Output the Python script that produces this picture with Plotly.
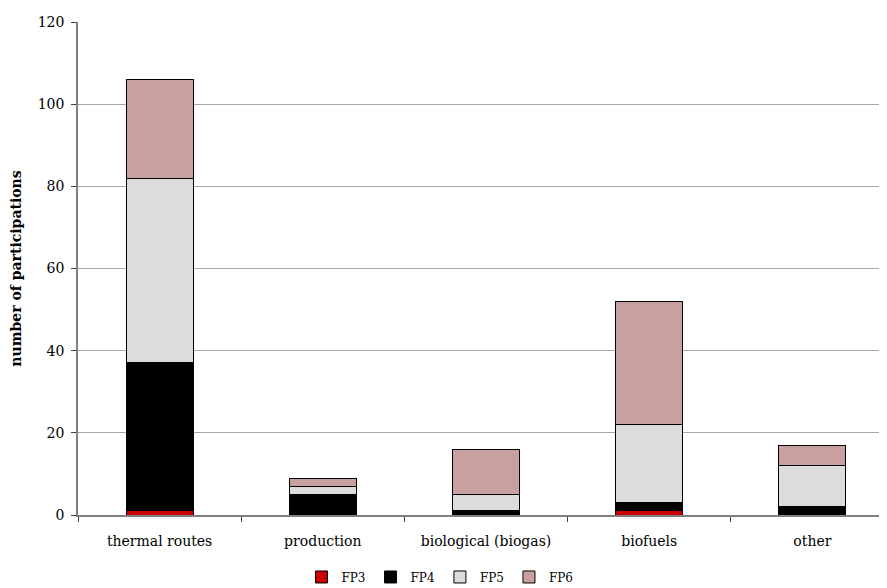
import plotly.graph_objects as go

categories = ["thermal routes", "production", "biological (biogas)", "biofuels", "other"]
fp3 = [1, 0, 0, 1, 0]
fp4 = [36, 5, 1, 2, 2]
fp5 = [45, 2, 4, 19, 10]
fp6 = [24, 2, 11, 30, 5]

series = [
    ("FP3", fp3, "#CC0000"),
    ("FP4", fp4, "#000000"),
    ("FP5", fp5, "#DCDCDC"),
    ("FP6", fp6, "#C8A0A0"),
]

font = "DejaVu Serif"

fig = go.Figure()
for name, vals, color in series:
    fig.add_trace(
        go.Bar(
            x=categories,
            y=vals,
            name=name,
            marker=dict(color=color, line=dict(color="#000000", width=1)),
        )
    )

# page body adds an 8px offset; the plot area runs past the right edge like the original
fig.update_layout(
    barmode="stack",
    bargap=0.59,
    width=887,
    height=580,
    margin=dict(l=70, r=1, t=14, b=73, autoexpand=False),
    plot_bgcolor="white",
    paper_bgcolor="white",
    font=dict(family=font, size=14, color="#000000"),
    legend=dict(
        orientation="h",
        xref="container",
        x=0.487,
        xanchor="center",
        yref="container",
        y=0.019,
        yanchor="middle",
        font=dict(size=12),
        itemwidth=30,
        tracegroupgap=0,
        traceorder="normal",
    ),
    xaxis=dict(
        automargin=False,
        showline=True,
        linecolor="#808080",
        linewidth=1.5,
        ticks="outside",
        tickson="boundaries",
        ticklen=5,
        tickcolor="#404040",
        ticklabelstandoff=12,
        showgrid=False,
    ),
    yaxis=dict(
        automargin=False,
        range=[0, 120],
        dtick=20,
        showline=True,
        linecolor="#808080",
        linewidth=1.5,
        ticks="outside",
        ticklen=5,
        tickcolor="#404040",
        ticklabelstandoff=4,
        gridcolor="#A8A8A0",
        gridwidth=1,
        zeroline=False,
        title=dict(text="<b>number of participations</b>", standoff=14, font=dict(size=14)),
    ),
)

fig.write_html("out.html")
